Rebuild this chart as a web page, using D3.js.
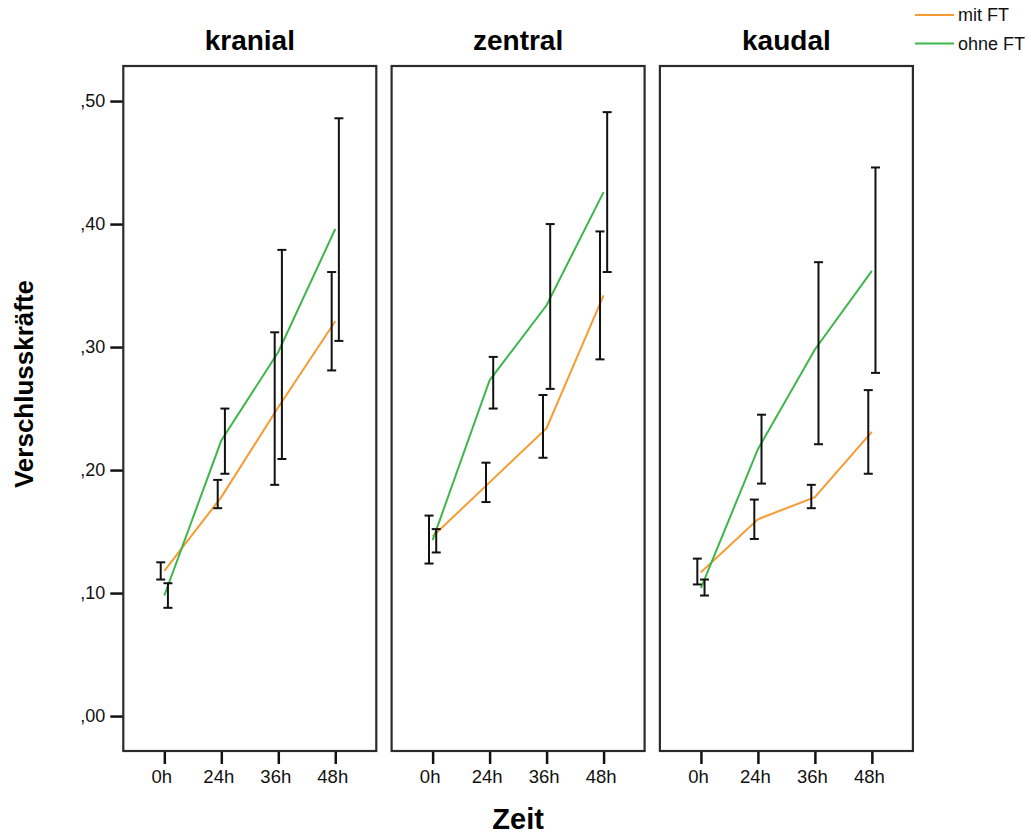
<!DOCTYPE html>
<html>
<head>
<meta charset="utf-8">
<script src="https://cdn.jsdelivr.net/npm/d3@7"></script>
<style>
  body { margin: 0; background: #fff; }
  svg { font-family: "Liberation Sans", Arial, sans-serif; }
</style>
</head>
<body>
<svg id="chart" width="1030" height="834"></svg>
<script>
const times = ["0h", "24h", "36h", "48h"];
const regions = ["kranial", "zentral", "kaudal"];
const groups = ["mit FT", "ohne FT"];
const yTicks = [0, 0.1, 0.2, 0.3, 0.4, 0.5];

// rows = regions (kranial, zentral, kaudal), columns = times
const mitMean  = [[0.118, 0.178, 0.251, 0.321], [0.146, 0.190, 0.234, 0.342], [0.117, 0.160, 0.178, 0.231]];
const mitLow   = [[0.111, 0.169, 0.188, 0.281], [0.124, 0.174, 0.210, 0.290], [0.107, 0.144, 0.169, 0.197]];
const mitHigh  = [[0.125, 0.192, 0.312, 0.361], [0.163, 0.206, 0.261, 0.394], [0.128, 0.176, 0.188, 0.265]];
const ohneMean = [[0.098, 0.224, 0.296, 0.396], [0.143, 0.273, 0.334, 0.426], [0.104, 0.217, 0.298, 0.362]];
const ohneLow  = [[0.088, 0.197, 0.209, 0.305], [0.133, 0.250, 0.266, 0.361], [0.098, 0.189, 0.221, 0.279]];
const ohneHigh = [[0.108, 0.250, 0.379, 0.486], [0.152, 0.292, 0.400, 0.491], [0.111, 0.245, 0.369, 0.446]];

const colors = { "mit FT": "#f79b32", "ohne FT": "#3db64b" };

const svg = d3.select("#chart");

const panelTop = 66, panelBottom = 751;
const panelW = 253, panelGap = 15.3, firstLeft = 123.3;

const yScale = d3.scaleLinear()
  .domain([-0.0284, 0.5285])
  .range([panelBottom, panelTop]);

// German style: ",50"
const fmt = d => d3.format(".2f")(d).replace(/^0\./, ",");

regions.forEach((region, ri) => {
  const left = firstLeft + ri * (panelW + panelGap);
  const xScale = d3.scalePoint()
    .domain(times)
    .range([left, left + panelW])
    .padding(0.72);

  const g = svg.append("g");

  // title
  g.append("text")
    .attr("x", left + panelW / 2)
    .attr("y", 50)
    .attr("text-anchor", "middle")
    .attr("font-weight", "bold")
    .attr("font-size", 28)
    .text(region);

  // x axis
  const xAxis = d3.axisBottom(xScale).tickSize(13).tickPadding(6);
  const xg = g.append("g")
    .attr("transform", `translate(0,${panelBottom})`)
    .call(xAxis);
  xg.select(".domain").remove();
  xg.selectAll(".tick line").attr("stroke", "#111").attr("stroke-width", 2.5);
  xg.selectAll(".tick text")
    .attr("font-size", 18.5)
    .attr("dx", -3)
    .attr("font-family", "Liberation Sans, Arial, sans-serif")
    .attr("fill", "#111");

  // y axis on first panel only
  if (ri === 0) {
    const yAxis = d3.axisLeft(yScale).tickValues(yTicks).tickFormat(fmt).tickSize(13).tickPadding(5);
    const yg = g.append("g")
      .attr("transform", `translate(${left},0)`)
      .call(yAxis);
    yg.select(".domain").remove();
    yg.selectAll(".tick line").attr("stroke", "#111").attr("stroke-width", 2.5);
    yg.selectAll(".tick text")
      .attr("font-size", 18)
      .attr("font-family", "Liberation Sans, Arial, sans-serif")
      .attr("fill", "#111");
  }

  // lines
  const series = [
    { name: "mit FT", mean: mitMean[ri], low: mitLow[ri], high: mitHigh[ri], dx: -3.6 },
    { name: "ohne FT", mean: ohneMean[ri], low: ohneLow[ri], high: ohneHigh[ri], dx: 3.6 }
  ];

  const line = d3.line()
    .x((d, i) => xScale(times[i]))
    .y(d => yScale(d));

  series.forEach(s => {
    g.append("path")
      .datum(s.mean)
      .attr("fill", "none")
      .attr("stroke", colors[s.name])
      .attr("stroke-width", 2)
      .attr("d", line);
  });

  // error bars
  series.forEach(s => {
    times.forEach((t, i) => {
      const x = xScale(t) + s.dx;
      const y1 = yScale(s.low[i]), y2 = yScale(s.high[i]);
      const eb = g.append("g").attr("stroke", "#111").attr("stroke-width", 2);
      eb.append("line").attr("x1", x).attr("x2", x).attr("y1", y1).attr("y2", y2);
      eb.append("line").attr("x1", x - 4.5).attr("x2", x + 4.5).attr("y1", y1).attr("y2", y1);
      eb.append("line").attr("x1", x - 4.5).attr("x2", x + 4.5).attr("y1", y2).attr("y2", y2);
    });
  });

  // frame
  g.append("rect")
    .attr("x", left)
    .attr("y", panelTop)
    .attr("width", panelW)
    .attr("height", panelBottom - panelTop)
    .attr("fill", "none")
    .attr("stroke", "#2b2b2b")
    .attr("stroke-width", 2.2);
});

// axis titles
svg.append("text")
  .attr("x", firstLeft + panelW + panelGap + panelW / 2)
  .attr("y", 829)
  .attr("text-anchor", "middle")
  .attr("font-weight", "bold")
  .attr("font-size", 29)
  .text("Zeit");

svg.append("text")
  .attr("transform", "translate(33,384) rotate(-90)")
  .attr("text-anchor", "middle")
  .attr("font-weight", "bold")
  .attr("font-size", 26)
  .text("Verschlusskräfte");

// legend
const legend = svg.append("g");
groups.forEach((name, i) => {
  const y = 15 + i * 28.5;
  legend.append("line")
    .attr("x1", 915).attr("x2", 954)
    .attr("y1", y).attr("y2", y)
    .attr("stroke", colors[name])
    .attr("stroke-width", 2);
  legend.append("text")
    .attr("x", 958)
    .attr("y", y + 6)
    .attr("font-size", 18)
    .attr("fill", "#111")
    .text(name);
});
</script>
</body>
</html>
